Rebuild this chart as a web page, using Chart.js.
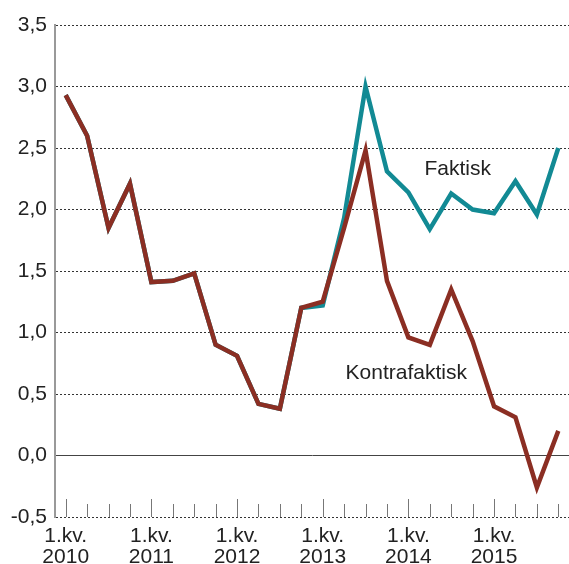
<!DOCTYPE html>
<html>
<head>
<meta charset="utf-8">
<script src="https://cdn.jsdelivr.net/npm/chart.js@4/dist/chart.umd.min.js"></script>
<style>
  html, body { margin: 0; padding: 0; background: #fff; }
  #wrap { width: 569px; height: 564px; }
</style>
</head>
<body>
<div id="wrap"><canvas id="chart"></canvas></div>
<script>
const years = ['2010', '2011', '2012', '2013', '2014', '2015'];
const quarters = [1, 2, 3, 4];

const faktisk = [2.93, 2.60, 1.85, 2.21, 1.41, 1.42, 1.48, 0.90,
                 0.81, 0.42, 0.38, 1.20, 1.22, 1.93, 3.00, 2.31,
                 2.14, 1.84, 2.13, 2.00, 1.97, 2.23, 1.96, 2.50];
const kontrafaktisk = [2.93, 2.60, 1.85, 2.21, 1.41, 1.42, 1.48, 0.90,
                       0.81, 0.42, 0.38, 1.20, 1.25, 1.85, 2.48, 1.42,
                       0.96, 0.90, 1.35, 0.93, 0.40, 0.31, -0.26, 0.20];

const yTicks = [-0.5, 0, 0.5, 1, 1.5, 2, 2.5, 3, 3.5];

// one category per quarter, only 1st quarter gets a label
const labels = [];
years.forEach(y => quarters.forEach(q => labels.push(q === 1 ? ['1.kv.', y] : '')));

const FONT = '"Liberation Sans", Arial, sans-serif';
const RED = '#8b2e23';
const TEAL = '#128a94';

// series names written inside the plot, anchored in data units
const seriesNotes = [
  { text: 'Faktisk', x: 18.3, y: 2.33 },
  { text: 'Kontrafaktisk', x: 15.9, y: 0.67 }
];

const extras = {
  id: 'extras',
  afterDraw(chart) {
    const ctx = chart.ctx;
    const xs = chart.scales.x, ys = chart.scales.y;
    const base = ys.getPixelForValue(-0.5);
    ctx.save();
    ctx.strokeStyle = '#777';
    ctx.lineWidth = 1;
    labels.forEach((l, i) => {
      const x = Math.round(xs.getPixelForValue(i)) + 0.5;
      ctx.beginPath();
      ctx.moveTo(x, base);
      ctx.lineTo(x, base - (l ? 18 : 13));
      ctx.stroke();
    });
    ctx.fillStyle = '#222';
    ctx.font = '21px ' + FONT;
    ctx.textAlign = 'center';
    ctx.textBaseline = 'middle';
    seriesNotes.forEach(n => {
      ctx.fillText(n.text, xs.getPixelForValue(n.x), ys.getPixelForValue(n.y));
    });
    ctx.restore();
  }
};

new Chart(document.getElementById('chart'), {
  type: 'line',
  data: {
    labels: labels,
    datasets: [{
      label: 'Kontrafaktisk',
      data: kontrafaktisk,
      borderColor: RED,
      borderWidth: 4.5,
      pointRadius: 0,
      tension: 0,
      order: 1
    }, {
      label: 'Faktisk',
      data: faktisk,
      borderColor: TEAL,
      borderWidth: 4.5,
      pointRadius: 0,
      tension: 0,
      order: 2
    }]
  },
  plugins: [extras],
  options: {
    responsive: true,
    maintainAspectRatio: false,
    animation: false,
    layout: { padding: { top: 25, right: 0, left: 0, bottom: 0 } },
    plugins: { legend: { display: false }, tooltip: { enabled: false } },
    scales: {
      x: {
        offset: true,
        grid: { display: false },
        border: { display: false },
        ticks: {
          autoSkip: false,
          maxRotation: 0,
          padding: 1,
          color: '#222',
          font: { family: FONT, size: 21, lineHeight: 0.98 }
        },
        afterFit(scale) { scale.height = 47; }
      },
      y: {
        min: -0.5,
        max: 3.5,
        afterBuildTicks(scale) { scale.ticks = yTicks.map(v => ({ value: v })); },
        grid: {
          color: ctx => ctx.tick && ctx.tick.value === 0 ? '#444' : '#333',
          lineWidth: 1,
          drawTicks: false
        },
        border: {
          display: true,
          color: '#999',
          width: 2,
          dash: ctx => ctx.tick && ctx.tick.value === 0 ? [] : [2, 2]
        },
        ticks: {
          padding: 8,
          color: '#222',
          font: { family: FONT, size: 21 },
          callback: v => v.toFixed(1).replace('.', ',')
        },
        afterFit(scale) { scale.width = 55; }
      }
    }
  }
});
</script>
</body>
</html>
